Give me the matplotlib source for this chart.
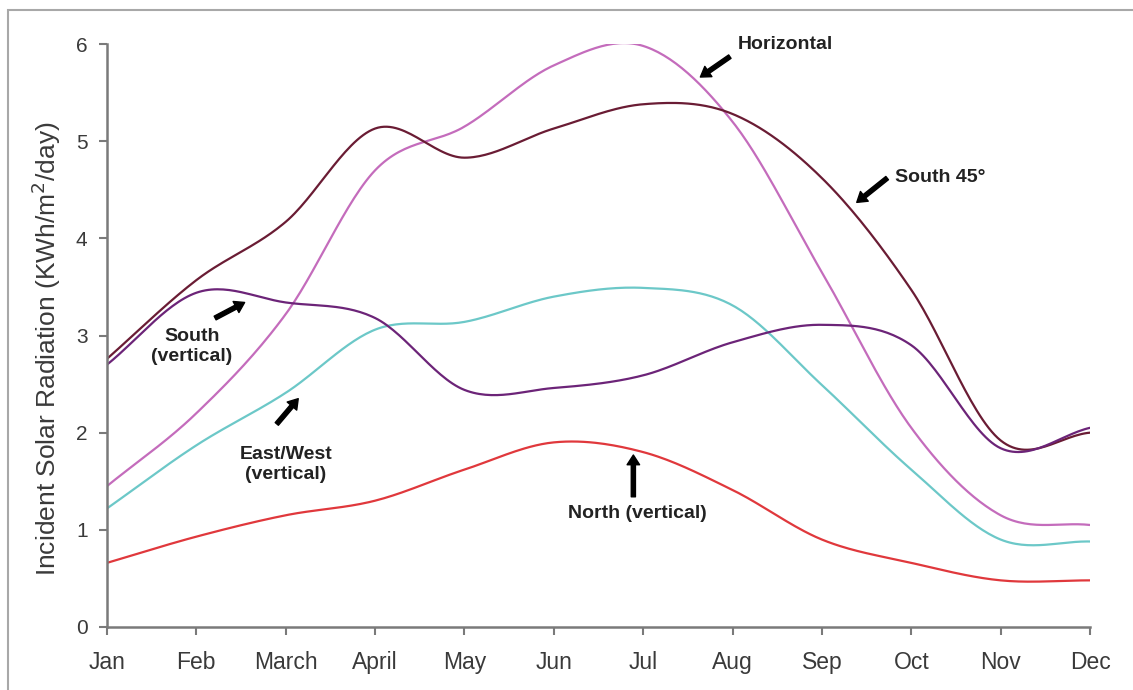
import numpy as np
import matplotlib
matplotlib.use('Agg')
import matplotlib.pyplot as plt
from matplotlib.patches import Rectangle

plt.rcParams['font.family'] = ['Liberation Sans', 'DejaVu Sans']

months = ['Jan', 'Feb', 'March', 'April', 'May', 'Jun', 'Jul', 'Aug', 'Sep', 'Oct', 'Nov', 'Dec']

# values, KWh/m2/day
horizontal = [1.45, 2.2, 3.22, 4.7, 5.15, 5.78, 5.98, 5.2, 3.65, 2.05, 1.15, 1.05]
south_45 = [2.76, 3.57, 4.17, 5.13, 4.83, 5.13, 5.38, 5.28, 4.62, 3.47, 1.92, 2.0]
south_vert = [2.7, 3.44, 3.34, 3.18, 2.44, 2.46, 2.59, 2.93, 3.11, 2.9, 1.84, 2.05]
east_west = [1.22, 1.87, 2.41, 3.06, 3.14, 3.4, 3.49, 3.31, 2.49, 1.62, 0.9, 0.88]
north_vert = [0.66, 0.93, 1.15, 1.3, 1.62, 1.9, 1.8, 1.41, 0.9, 0.66, 0.48, 0.48]


def smooth(y, n=30):
    # Catmull-Rom curve through the points, like Excel's smoothed line
    y = np.asarray(y, dtype=float)
    p = np.concatenate([[2 * y[0] - y[1]], y, [2 * y[-1] - y[-2]]])
    xs, ys = [], []
    t = np.linspace(0, 1, n, endpoint=False)
    for i in range(len(y) - 1):
        p0, p1, p2, p3 = p[i], p[i + 1], p[i + 2], p[i + 3]
        seg = 0.5 * (2 * p1 + (-p0 + p2) * t + (2 * p0 - 5 * p1 + 4 * p2 - p3) * t ** 2
                     + (-p0 + 3 * p1 - 3 * p2 + p3) * t ** 3)
        xs.append(i + t)
        ys.append(seg)
    xs.append([len(y) - 1])
    ys.append([y[-1]])
    return np.concatenate(xs), np.concatenate(ys)


fig = plt.figure(figsize=(11.33, 6.9), dpi=100)
fig.patches.append(Rectangle((8 / 1133, -0.1), 1.2, 0.1 + 1 - 10 / 690, transform=fig.transFigure,
                             fill=False, edgecolor='#a8a8a8', linewidth=1.5))
ax = fig.add_axes([107 / 1133, 1 - 627 / 690, 983 / 1133, 583 / 690])

series = [
    (horizontal, '#c46cbc'),
    (south_45, '#6a1c34'),
    (east_west, '#6cc8c8'),
    (south_vert, '#6c2478'),
    (north_vert, '#e0383c'),
]
for vals, col in series:
    sx, sy = smooth(vals)
    ax.plot(sx, sy, color=col, linewidth=1.6, solid_capstyle='round')

ax.set_xlim(0, 11)
ax.set_ylim(0, 6)
ax.set_xticks(range(12))
ax.set_xticklabels(months)
ax.set_yticks(range(7))
for s in ['top', 'right']:
    ax.spines[s].set_visible(False)
for s in ['left', 'bottom']:
    ax.spines[s].set_color('#7a7a7a')
    ax.spines[s].set_linewidth(1.8)
    ax.spines[s].set_clip_on(False)
ax.tick_params(axis='both', colors='#7a7a7a', width=1.5, length=6, labelcolor='#3a3a3a')
ax.tick_params(axis='x', pad=11, labelsize=16.5)
ax.tick_params(axis='y', pad=8, labelsize=15)
ax.set_ylabel('Incident Solar Radiation (KWh/m$^2$/day)', fontsize=19, color='#3a3a3a')
ax.yaxis.set_label_coords(-0.045, 0.477)

arrow = dict(arrowstyle='simple,head_length=0.7,head_width=0.9,tail_width=0.3', color='black', shrinkA=0, shrinkB=0)
tkw = dict(fontsize=14, fontweight='bold', color='#222222')

ax.annotate('', xy=(6.64, 5.66), xytext=(6.97, 5.87), arrowprops=arrow)
ax.text(7.06, 5.99, 'Horizontal', ha='left', va='center', **tkw)

ax.annotate('', xy=(8.39, 4.37), xytext=(8.73, 4.62), arrowprops=arrow)
ax.text(8.82, 4.63, 'South 45°', ha='left', va='center', **tkw)

ax.annotate('', xy=(1.54, 3.34), xytext=(1.21, 3.18), arrowprops=arrow)
ax.text(0.95, 2.89, 'South\n(vertical)', ha='center', va='center', linespacing=1.25, **tkw)

ax.annotate('', xy=(2.14, 2.35), xytext=(1.90, 2.09), arrowprops=arrow)
ax.text(2.0, 1.67, 'East/West\n(vertical)', ha='center', va='center', linespacing=1.25, **tkw)

ax.annotate('', xy=(5.89, 1.77), xytext=(5.89, 1.34), arrowprops=arrow)
ax.text(5.93, 1.17, 'North (vertical)', ha='center', va='center', **tkw)

fig.savefig('out.png', dpi=100)
